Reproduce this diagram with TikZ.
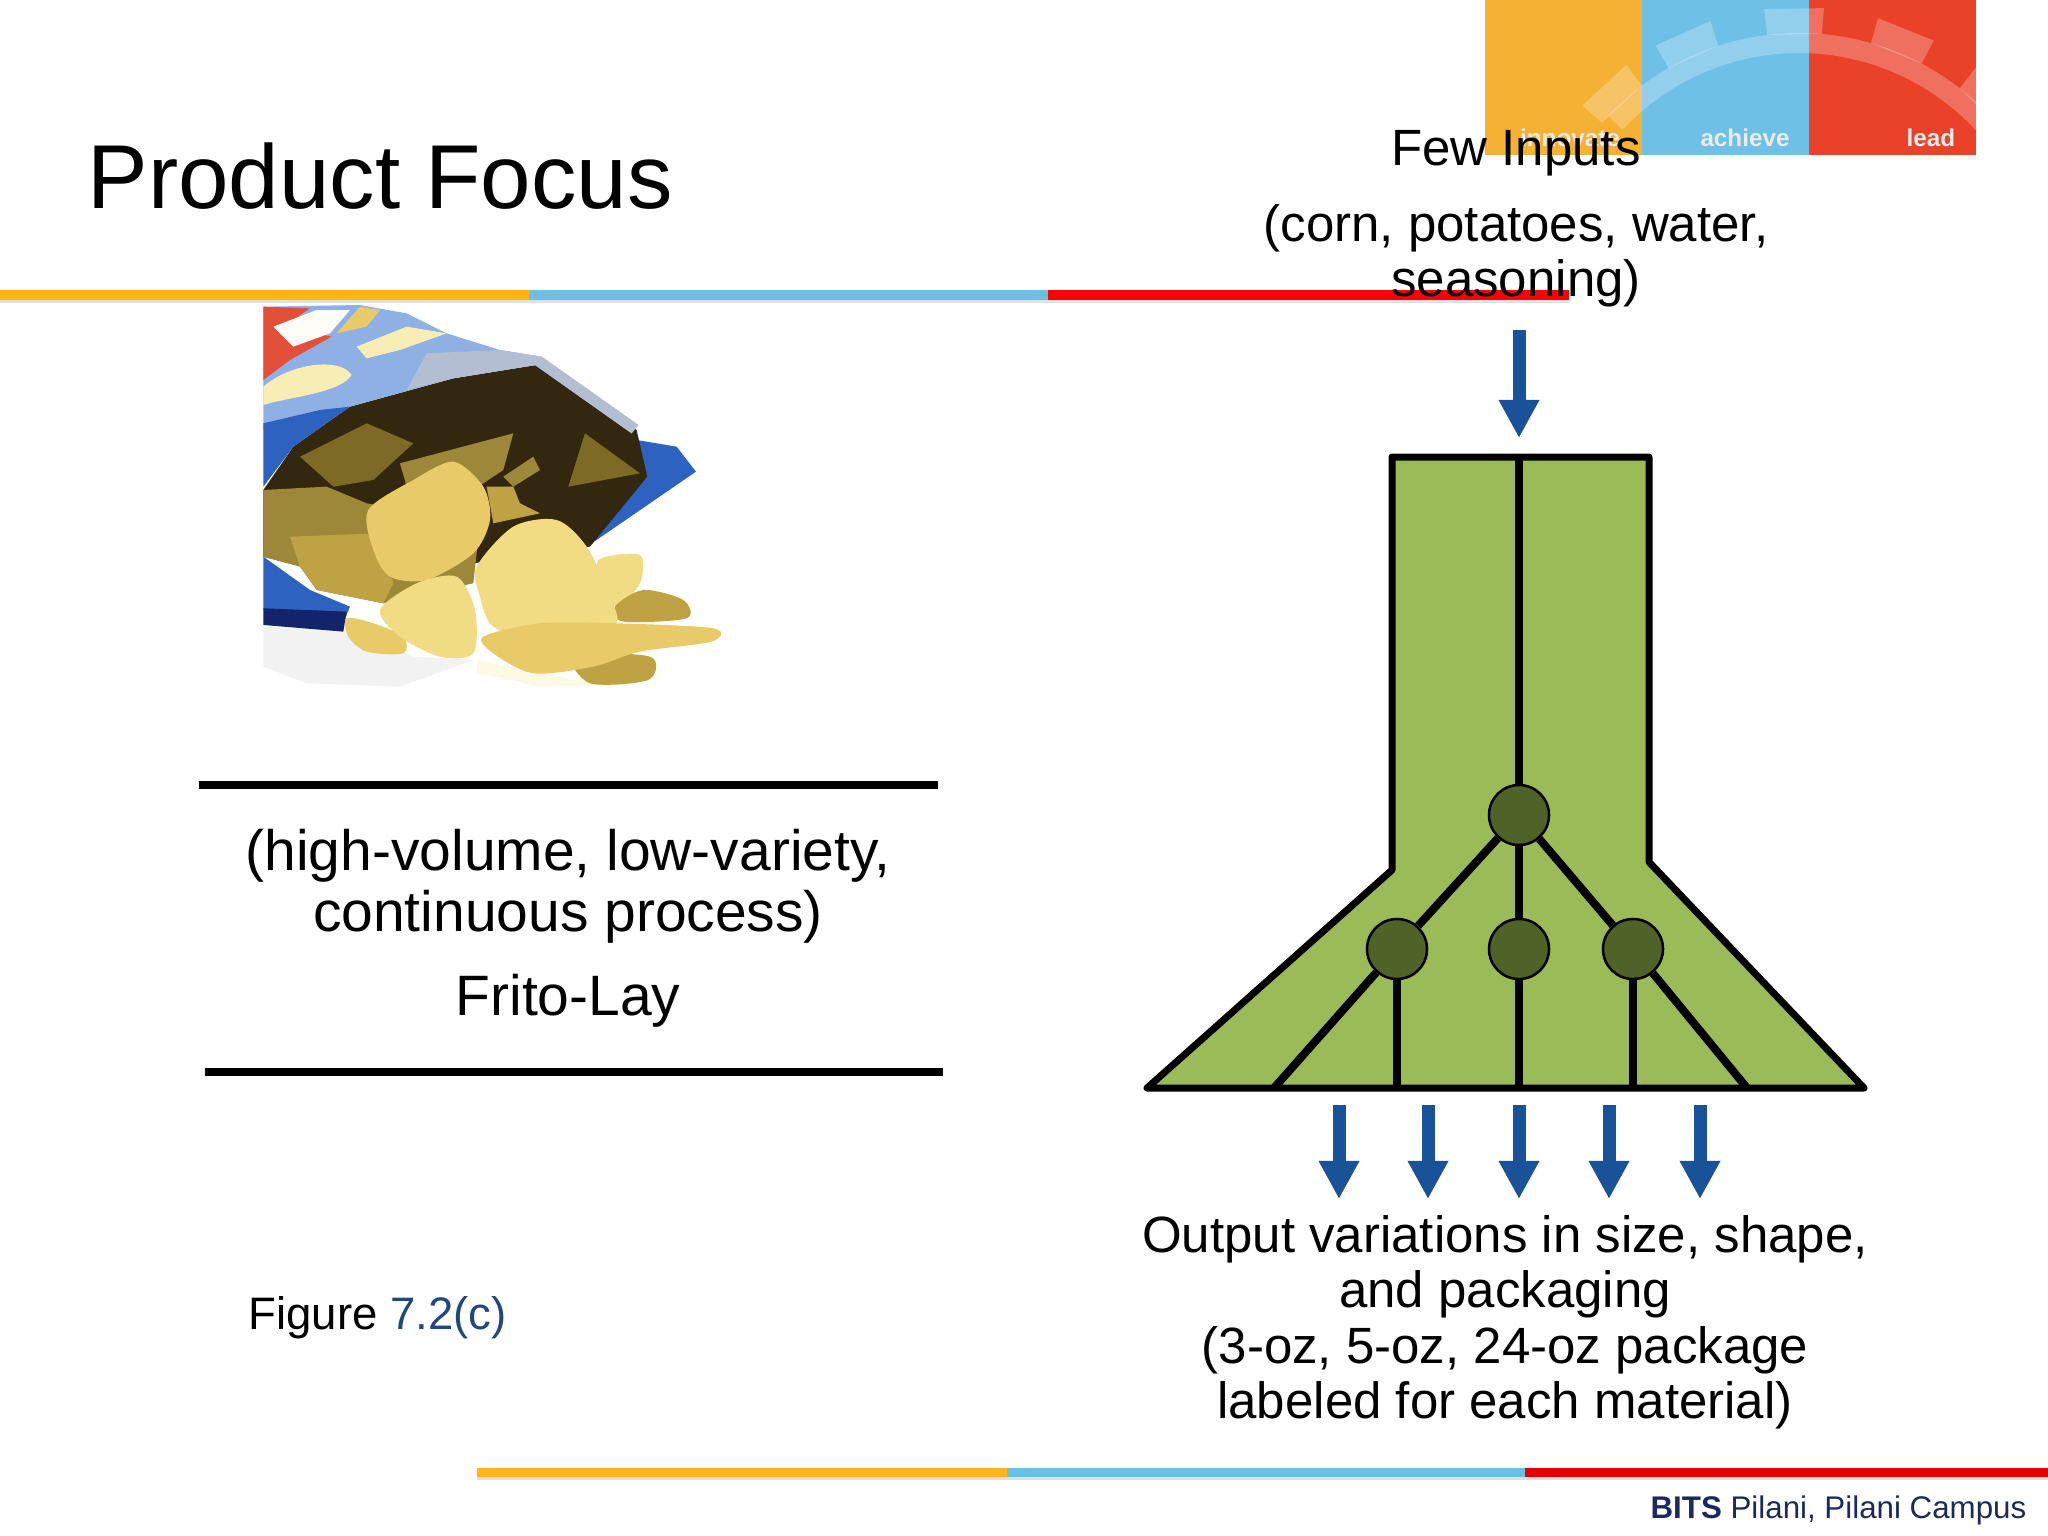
\documentclass[tikz,border=0pt]{standalone}
\usepackage{fontspec}
\setmainfont{Liberation Sans}
\usepackage{xcolor}
\usetikzlibrary{positioning,arrows.meta,calc}

\definecolor{logoorange}{HTML}{F4B133}
\definecolor{logoblue}{HTML}{6EC0E6}
\definecolor{logored}{HTML}{EA4129}
\definecolor{barorange}{HTML}{FDB515}
\definecolor{barblue}{HTML}{6CBEE4}
\definecolor{funnelgreen}{HTML}{9BBB59}
\definecolor{stationgreen}{HTML}{4F6228}
\definecolor{flowblue}{HTML}{1A5299}
\definecolor{figblue}{HTML}{1F497D}
\definecolor{footnavy}{HTML}{1B2A5C}
\definecolor{bagsky}{HTML}{8FB0E4}
\definecolor{bagsilver}{HTML}{B4BED2}
\definecolor{bagred}{HTML}{E2503A}
\definecolor{bagcream}{HTML}{F8EDB4}
\definecolor{bagdark}{HTML}{33280F}
\definecolor{bagblue}{HTML}{2D62C0}
\definecolor{bagnavy}{HTML}{13246A}
\definecolor{chipshade}{HTML}{7C6A26}
\definecolor{chipolive}{HTML}{9C8838}
\definecolor{chipmid}{HTML}{BFA243}
\definecolor{chiplight}{HTML}{E8CB68}
\definecolor{chippale}{HTML}{F1DC84}

\begin{document}
\begin{tikzpicture}[
    x=0.01cm,
    y=-0.01cm,
    logotext/.style={font=\fontsize{6.9}{8}\selectfont\bfseries, text=white!92!black},
    geartooth/.style={fill=white, fill opacity=0.25},
    bodytext/.style={font=\fontsize{14.5}{17.4}\selectfont, align=center, inner sep=0pt},
    lefttext/.style={font=\fontsize{16.2}{17.4}\selectfont, anchor=base, inner sep=0pt},
    rule/.style={line width=0.085cm, black},
    channel/.style={line width=0.08cm, black},
    station/.style={circle, draw=black, line width=0.025cm, fill=stationgreen, minimum size=0.6cm, inner sep=0pt},
    flow/.style={line width=0.13cm, flowblue, -{Triangle[length=0.38cm,width=0.38cm]}}
]
\useasboundingbox (0,0) rectangle (2048,1536);

% Logo blocks
\fill[logoorange] (1485,0) rectangle (1642,155);
\fill[logoblue] (1642,0) rectangle (1809,155);
\fill[logored] (1809,0) rectangle (1976,155);
\begin{scope}
\clip (1485,0) rectangle (1976,155);
\begin{scope}[shift={(1799,294)}]
\fill[geartooth] (-42:241) arc[start angle=-42, end angle=-137, radius=241] -- (-137:261) arc[start angle=-137, end angle=-42, radius=261] -- cycle;
\fill[geartooth] (-127:261) -- (-127:287) -- (-139:287) -- (-139:261) -- cycle;
\fill[geartooth] (-108:261) -- (-108:287) -- (-120:287) -- (-120:261) -- cycle;
\fill[geartooth] (-85:261) -- (-85:287) -- (-97:287) -- (-97:261) -- cycle;
\fill[geartooth] (-62:261) -- (-62:287) -- (-74:287) -- (-74:261) -- cycle;
\fill[geartooth] (-40:261) -- (-40:287) -- (-52:287) -- (-52:261) -- cycle;
\end{scope}
\end{scope}
\node[logotext] (innovate) at (1570,138) {innovate};
\node[logotext] (achieve) at (1745,138) {achieve};
\node[logotext] (lead) at (1931,138) {lead};

% Title
\node[font=\fontsize{25.8}{30}\selectfont, anchor=base west, inner sep=0pt] (title) at (87,208) {Product Focus};

% Top and bottom bars
\fill[black!12] (0,300) rectangle (1569,303);
\fill[barorange] (0,290) rectangle (529,300);
\fill[barblue] (529,290) rectangle (1048,300);
\fill[red] (1048,290) rectangle (1569,300);
\fill[black!12] (477,1477) rectangle (2048,1480);
\fill[barorange] (477,1468) rectangle (1007,1477);
\fill[barblue] (1007,1468) rectangle (1525,1477);
\fill[red!90!black] (1525,1468) rectangle (2048,1477);

% Bag of chips
\begin{scope}[shift={(240,290)}, scale=0.3333]
\fill[black!5] (70,1010) -- (330,1020) -- (520,1100) -- (700,1110) -- (480,1190) -- (200,1180) -- (70,1130) -- cycle;
\fill[bagcream!35] (710,1110) -- (1000,1170) -- (1220,1185) -- (900,1190) -- (710,1150) -- cycle;
% bag outside
\fill[bagblue] (1190,450) -- (1310,470) -- (1368,545) -- (1070,750) -- (1040,770) -- (1222,560) -- cycle;
\fill[bagdark] (70,600) -- (160,470) -- (330,350) -- (640,265) -- (890,225) -- (1190,420) -- (1222,560) -- (1050,770) -- (700,820) -- (300,860) -- (70,800) -- cycle;
\fill[bagsky] (70,50) -- (360,45) -- (500,70) -- (620,130) -- (780,180) -- (905,200) -- (1195,405) -- (1175,430) -- (885,225) -- (640,265) -- (330,350) -- (70,420) -- cycle;
\fill[bagsilver] (560,190) -- (780,180) -- (905,200) -- (1195,405) -- (1175,430) -- (885,225) -- (640,265) -- (500,300) -- cycle;
\fill[bagred] (70,50) -- (210,55) -- (130,110) -- (275,140) -- (150,210) -- (70,270) -- cycle;
\fill[white!90!bagcream] (100,110) -- (230,60) -- (330,60) -- (270,130) -- (160,170) -- cycle;
\fill[chiplight] (290,130) -- (360,50) -- (420,60) -- (380,110) -- cycle;
\fill[bagcream] (350,170) -- (500,110) -- (620,130) -- (480,180) -- (380,205) -- cycle;
\fill[bagcream] (70,290) .. controls (150,220) and (300,200) .. (335,255) .. controls (300,310) and (150,320) .. (70,345) -- cycle;
\fill[bagblue] (70,400) -- (240,360) -- (330,350) -- (160,470) -- (70,590) -- cycle;
\fill[bagblue] (70,800) -- (210,900) -- (330,950) -- (310,1000) -- (70,960) -- cycle;
\fill[bagnavy] (70,955) -- (320,965) -- (310,1025) -- (70,1005) -- cycle;
% chips inside the bag
\fill[chipshade] (180,500) -- (380,400) -- (520,460) -- (400,570) -- (280,590) -- cycle;
\fill[chipolive] (480,520) -- (820,430) -- (790,540) -- (700,600) -- (500,590) -- cycle;
\fill[chipolive] (790,560) -- (880,500) -- (900,540) -- (820,590) -- cycle;
\fill[chipshade] (985,590) -- (1035,430) -- (1200,550) -- cycle;
\fill[chipolive] (70,600) -- (260,590) -- (380,640) -- (720,700) -- (700,880) -- (430,940) -- (230,900) -- (180,830) -- (70,800) -- cycle;
\fill[chipmid] (150,740) -- (420,730) -- (460,880) -- (430,940) -- (230,900) -- (180,830) -- cycle;
\fill[chipmid] (740,590) -- (820,590) -- (840,640) -- (900,670) -- (760,700) -- cycle;
% chips in front
\fill[chiplight] plot[smooth cycle] coordinates {(385,660) (520,570) (640,515) (730,590) (750,690) (700,790) (560,870) (450,860) (400,780)};
\fill[chippale] plot[smooth cycle] coordinates {(1075,810) (1200,795) (1200,880) (1130,950) (1090,900)};
\fill[chipmid] plot[smooth cycle] coordinates {(1125,950) (1210,900) (1330,930) (1340,985) (1150,995)};
\fill[chipmid] plot[smooth cycle] coordinates {(1000,1095) (1230,1100) (1225,1170) (1050,1180)};
\fill[chiplight] plot[smooth cycle] coordinates {(320,985) (400,1000) (490,1040) (490,1090) (380,1085) (325,1040)};
\fill[chippale] plot[smooth cycle] coordinates {(420,960) (530,880) (650,860) (705,960) (700,1090) (600,1100) (480,1040)};
\fill[chippale] plot[smooth cycle] coordinates {(710,830) (820,710) (950,690) (1040,770) (1110,920) (1120,1010) (900,1050) (760,1010) (720,920)};
\fill[chiplight] plot[smooth cycle] coordinates {(730,1040) (900,1000) (1130,1000) (1420,1015) (1415,1055) (1200,1085) (1060,1130) (880,1150) (760,1090)};
\end{scope}

% Rules round the process label
\coordinate (ruleonew) at (199,785);
\coordinate (ruleonee) at (938,785);
\coordinate (ruletwow) at (205,1072);
\coordinate (ruletwoe) at (943,1072);
\draw[rule] (ruleonew) -- (ruleonee);
\draw[rule] (ruletwow) -- (ruletwoe);

% Left labels
\node[lefttext] (process) at (568,870) {(high-volume, low-variety,};
\node[lefttext] (processb) at (568,931) {continuous process)};
\node[lefttext] (company) at (568,1015) {Frito-Lay};
\node[font=\fontsize{12.95}{16}\selectfont, anchor=base west, inner sep=0pt] (figure) at (248,1329) {Figure \textcolor{figblue}{7.2(c)}};

% Funnel
\coordinate (stemnw) at (1392,457);
\coordinate (stemne) at (1649,457);
\coordinate (stemtop) at (1519,457);
\coordinate (kneew) at (1392,870);
\coordinate (kneee) at (1649,862);
\coordinate (basew) at (1147,1088);
\coordinate (basee) at (1864,1088);
\filldraw[fill=funnelgreen, draw=black, line width=0.07cm, line join=round] (stemnw) -- (stemne) -- (kneee) -- (basee) -- (basew) -- (kneew) -- cycle;

\node[station] (topst) at (1519,815) {};
\node[station] (leftst) at (1397,949) {};
\node[station] (midst) at (1519,949) {};
\node[station] (rightst) at (1633,949) {};

\coordinate (basea) at (1274,1088);
\coordinate (baseb) at (1397,1088);
\coordinate (basec) at (1519,1088);
\coordinate (based) at (1633,1088);
\coordinate (basef) at (1747,1088);

\draw[channel] (stemtop) -- (topst);
\draw[channel] (topst) -- (midst);
\draw[channel] (topst) -- (leftst);
\draw[channel] (topst) -- (rightst);
\draw[channel] (leftst) -- (basea);
\draw[channel] (leftst) -- (baseb);
\draw[channel] (midst) -- (basec);
\draw[channel] (rightst) -- (based);
\draw[channel] (rightst) -- (basef);

% Flow arrows
\coordinate (inputa) at (1519,330);
\coordinate (inputb) at (1519,438);
\draw[flow] (inputa) -- (inputb);
\coordinate (outatop) at (1339,1105);
\coordinate (outabot) at (1339,1199);
\coordinate (outbtop) at (1428,1105);
\coordinate (outbbot) at (1428,1199);
\coordinate (outctop) at (1519,1105);
\coordinate (outcbot) at (1519,1199);
\coordinate (outdtop) at (1609,1105);
\coordinate (outdbot) at (1609,1199);
\coordinate (outetop) at (1700,1105);
\coordinate (outebot) at (1700,1199);
\draw[flow] (outatop) -- (outabot);
\draw[flow] (outbtop) -- (outbbot);
\draw[flow] (outctop) -- (outcbot);
\draw[flow] (outdtop) -- (outdbot);
\draw[flow] (outetop) -- (outebot);

% Right labels
\node[bodytext, anchor=base] (fewinputs) at (1516,165) {Few Inputs};
\node[bodytext, anchor=base] (inputsb) at (1516,241) {(corn, potatoes, water,};
\node[bodytext, anchor=base] (inputsc) at (1516,296) {seasoning)};
\node[bodytext, anchor=base] (outputs) at (1505,1252) {Output variations in size, shape,};
\node[bodytext, anchor=base] (outputsb) at (1505,1307) {and packaging};
\node[bodytext, anchor=base] (outputsc) at (1505,1363) {(3-oz, 5-oz, 24-oz package};
\node[bodytext, anchor=base] (outputsd) at (1505,1418) {labeled for each material)};

% Footer
\node[font=\fontsize{8.9}{11}\selectfont, anchor=base east, inner sep=0pt, text=footnavy] (footer) at (2027,1518) {\textbf{BITS} Pilani, Pilani Campus};

\end{tikzpicture}
\end{document}
